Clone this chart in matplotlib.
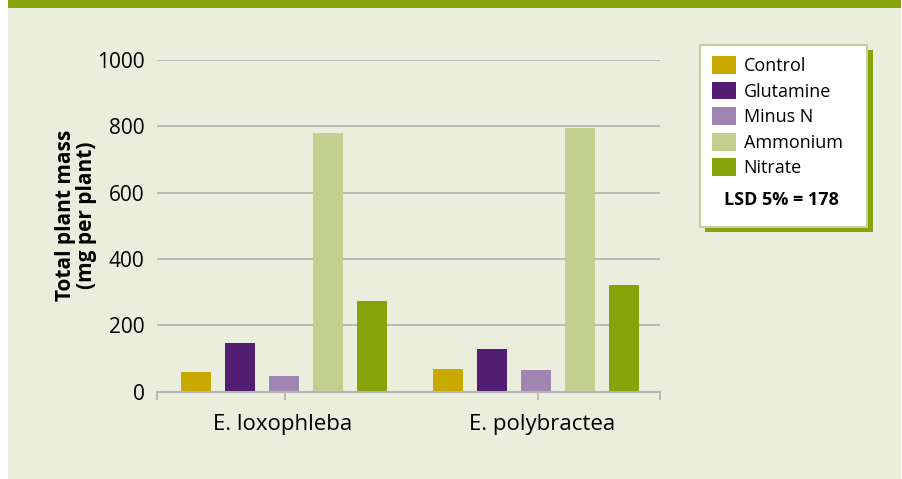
#!/usr/bin/env python3

import numpy as np
import matplotlib
matplotlib.use("Agg")
import matplotlib.pyplot as plt
from matplotlib.patches import Rectangle

plt.rcParams["font.family"] = ["Open Sans", "DejaVu Sans"]

species = ["E. loxophleba", "E. polybractea"]
treatments = ["Control", "Glutamine", "Minus N", "Ammonium", "Nitrate"]
colors = ["#C9A800", "#511E73", "#A085B1", "#C3CF8F", "#86A30A"]

# total plant mass (mg per plant), one list per treatment
control = [60, 69]
glutamine = [148, 129]
minus_n = [48, 66]
ammonium = [780, 796]
nitrate = [272, 323]
values = [control, glutamine, minus_n, ammonium, nitrate]

yticks = [0, 200, 400, 600, 800, 1000]
lsd_text = "LSD 5% = 178"

W, H = 903, 479
fig = plt.figure(figsize=(W / 100, H / 100), dpi=100, facecolor="white")

# page background + green top band
fig.patches.append(Rectangle((8 / W, 0), (901 - 8) / W, 1, transform=fig.transFigure,
                             facecolor="#ECEEDD", edgecolor="none", zorder=-10))
fig.patches.append(Rectangle((8 / W, 1 - 8 / H), (901 - 8) / W, 8 / H, transform=fig.transFigure,
                             facecolor="#86A30A", edgecolor="none", zorder=-9))

ax = fig.add_axes([157 / W, (H - 391.7) / H, (660 - 157) / W, (391.7 - 60) / H])
ax.set_facecolor("none")

group_centers = np.array([0.0, 5.727])
width = 0.68
handles = []
for i, (name, vals, c) in enumerate(zip(treatments, values, colors)):
    b = ax.bar(group_centers + (i - 2), vals, width=width, color=c, label=name, zorder=3)
    handles.append(b)

ax.set_xlim(-2.886, 8.545)
ax.set_ylim(0, 1000)
ax.set_yticks(yticks)
ax.set_yticklabels([str(v) for v in yticks], fontsize=15)
ax.tick_params(axis="y", length=0, pad=9)
ax.yaxis.grid(True, color="#B5B5B5", linewidth=1.3, zorder=0)

ax.set_xticks([-2.886, 0.023, 5.77, 8.545])
ax.set_xticklabels([])
ax.tick_params(axis="x", which="major", length=6, width=1.3, color="#B5B5B5")
ax.set_xticks(group_centers + np.array([-0.03, 0.14]), minor=True)
ax.set_xticklabels(species, minor=True, fontsize=16)
ax.tick_params(axis="x", which="minor", length=0, pad=16)

for s in ["top", "right", "left"]:
    ax.spines[s].set_visible(False)
ax.spines["bottom"].set_color("#B5B5B5")
ax.spines["bottom"].set_linewidth(1.5)
ax.spines["bottom"].set_zorder(4)

fig.text(76 / W, 1 - 215 / H, "Total plant mass\n(mg per plant)", rotation=90,
         ha="center", va="center", fontsize=15, fontweight="bold", linespacing=1.0)

# legend box with offset green shadow
fig.patches.append(Rectangle((705 / W, 1 - 232 / H), 168 / W, 182 / H, transform=fig.transFigure,
                             facecolor="#86A30A", edgecolor="none", zorder=1))
fig.patches.append(Rectangle((700 / W, 1 - 227 / H), 167 / W, 182 / H, transform=fig.transFigure,
                             facecolor="white", edgecolor="#C5D09A", linewidth=1.5, zorder=2))

leg = fig.legend(handles=handles, labels=treatments, loc="upper left",
                 bbox_to_anchor=(712 / W, 1 - 56 / H), frameon=False, fontsize=13,
                 handlelength=1.35, handleheight=1.15, handletextpad=0.4,
                 labelspacing=0.36, borderpad=0, borderaxespad=0)
leg.set_zorder(5)

fig.text(781 / W, 1 - 200 / H, lsd_text, ha="center", va="center",
         fontsize=13, fontweight="bold", zorder=5)

fig.savefig("out.png", dpi=100, facecolor=fig.get_facecolor())
